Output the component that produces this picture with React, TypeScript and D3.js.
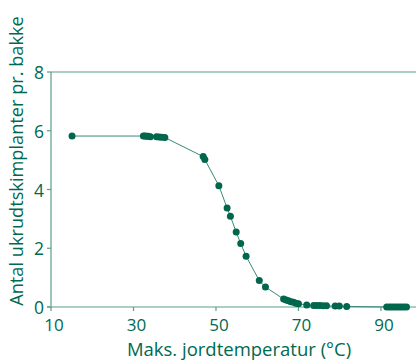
import React from "react";
import * as d3 from "d3";

const tempX: number[] = [15.1, 32.4, 32.8, 33.2, 33.6, 34.1, 35.6, 36.2, 36.8, 37.6, 46.9, 47.3, 50.7, 52.7, 53.5, 54.9, 56.0, 57.3, 60.5, 62.0, 66.4, 67.0, 67.6, 68.2, 68.8, 69.4, 70.0, 72.0, 73.7, 74.4, 75.2, 76.0, 76.8, 78.9, 79.9, 81.7, 91.4, 92.0, 92.6, 93.2, 93.8, 94.4, 95.0, 95.6, 96.2];
const plantsY: number[] = [5.82, 5.82, 5.82, 5.81, 5.81, 5.8, 5.8, 5.79, 5.78, 5.77, 5.12, 5.02, 4.13, 3.37, 3.09, 2.55, 2.16, 1.73, 0.9, 0.68, 0.27, 0.24, 0.21, 0.18, 0.16, 0.13, 0.11, 0.07, 0.05, 0.05, 0.05, 0.04, 0.04, 0.03, 0.03, 0.02, 0.0, 0.0, 0.0, 0.0, 0.0, 0.0, 0.0, 0.0, 0.0];
const xTicks: number[] = [10, 30, 50, 70, 90];
const yTicks: number[] = [0, 2, 4, 6, 8];
const xTitle = "Maks. jordtemperatur (°C)";
const yTitle = "Antal ukrudtskimplanter pr. bakke";

const W = 416;
const H = 360;
const TEXT = "#00694f";
const AXIS = "#5a9e8c";
const LINE = "#3a8a76";
const DOT = "#00664c";
const FONT = "'Open Sans', sans-serif";

export default function App() {
  const x = d3.scaleLinear().domain([10, 98.5]).range([51, 416]);
  const y = d3.scaleLinear().domain([0, 8]).range([307, 72]);
  const pts = tempX.map((t, i) => [t, plantsY[i]] as [number, number]);
  const line = d3
    .line<[number, number]>()
    .x((d) => x(d[0]))
    .y((d) => y(d[1]));

  return (
    <svg
      width={W}
      height={H}
      style={{ position: "absolute", left: 0, top: 0, background: "#fff" }}
    >
      {/* top frame line */}
      <line x1={x(10)} x2={W} y1={y(8)} y2={y(8)} stroke={AXIS} strokeWidth={1.2} />
      {/* y axis */}
      <line x1={x(10)} x2={x(10)} y1={y(8)} y2={y(0)} stroke={AXIS} strokeWidth={1.2} />
      {/* x axis */}
      <line x1={x(10) - 4} x2={W} y1={y(0)} y2={y(0)} stroke={AXIS} strokeWidth={1.2} />
      {yTicks.map((t) => (
        <g key={"y" + t}>
          <line x1={x(10) - 4} x2={x(10)} y1={y(t)} y2={y(t)} stroke={AXIS} strokeWidth={1.2} />
          <text
            x={x(10) - 7}
            y={y(t)}
            textAnchor="end"
            dominantBaseline="central"
            fill={TEXT}
            fontFamily={FONT}
            fontSize={17.5}
          >
            {t}
          </text>
        </g>
      ))}
      {xTicks.map((t) => (
        <g key={"x" + t}>
          <line x1={x(t)} x2={x(t)} y1={y(0)} y2={y(0) + 4} stroke={AXIS} strokeWidth={1.2} />
          <text
            x={x(t) + 3}
            y={331}
            textAnchor="middle"
            fill={TEXT}
            fontFamily={FONT}
            fontSize={17}
          >
            {t}
          </text>
        </g>
      ))}
      <path d={line(pts) || ""} fill="none" stroke={LINE} strokeWidth={1} />
      {pts.map((d, i) => (
        <circle key={i} cx={x(d[0])} cy={y(d[1])} r={3.5} fill={DOT} />
      ))}
      <text
        x={239}
        y={355.5}
        textAnchor="middle"
        fill={TEXT}
        fontFamily={FONT}
        fontSize={18.5}
      >
        {xTitle}
      </text>
      <text
        transform={`translate(23, 161) rotate(-90)`}
        textAnchor="middle"
        fill={TEXT}
        fontFamily={FONT}
        fontSize={18.2}
      >
        {yTitle}
      </text>
    </svg>
  );
}
